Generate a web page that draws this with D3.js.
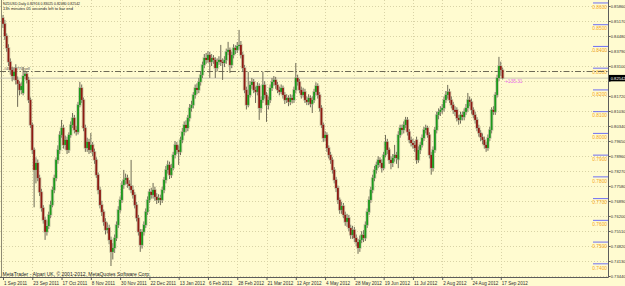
<!DOCTYPE html>
<html>
<head>
<meta charset="utf-8">
<script src="https://cdn.jsdelivr.net/npm/d3@7"></script>
<style>
html, body { margin: 0; padding: 0; background: #fffbd0; }
svg { display: block; }
text { font-family: "Liberation Sans", Arial, sans-serif; }
</style>
</head>
<body>
<div id="chart"></div>
<script>
// NZDUSD daily, 1 Sep 2011 .. 18 Sep 2012 (one value per bar)
const opens = [
  0.8531,0.8504,0.8448,0.8393,0.8329,0.8292,0.8264,0.8300,0.8246,0.8228,
  0.8200,0.8186,0.8264,0.8274,0.8246,0.8154,0.8039,0.7924,0.7832,0.7864,
  0.7795,0.7730,0.7657,0.7602,0.7547,0.7574,0.7625,0.7671,0.7740,0.7795,
  0.7878,0.7924,0.7993,0.8025,0.7947,0.7970,0.7924,0.7993,0.8039,0.8071,
  0.8016,0.8007,0.8131,0.8209,0.8154,0.8025,0.7933,0.7961,0.7924,0.7947,
  0.7915,0.7878,0.7809,0.7740,0.7671,0.7639,0.7593,0.7556,0.7565,0.7510,
  0.7455,0.7473,0.7519,0.7579,0.7648,0.7694,0.7763,0.7786,0.7795,0.7768,
  0.7758,0.7740,0.7717,0.7671,0.7611,0.7547,0.7487,0.7547,0.7579,0.7639,
  0.7694,0.7731,0.7717,0.7740,0.7708,0.7694,0.7703,0.7694,0.7740,0.7786,
  0.7832,0.7855,0.7809,0.7841,0.7901,0.7947,0.7924,0.7915,0.7970,0.8007,
  0.8039,0.8025,0.8071,0.8117,0.8131,0.8177,0.8209,0.8200,0.8237,0.8269,
  0.8315,0.8347,0.8338,0.8361,0.8329,0.8347,0.8338,0.8301,0.8329,0.8338,
  0.8329,0.8324,0.8338,0.8375,0.8384,0.8315,0.8361,0.8393,0.8384,0.8402,
  0.8407,0.8361,0.8301,0.8200,0.8131,0.8177,0.8223,0.8237,0.8200,0.8191,
  0.8218,0.8117,0.8154,0.8223,0.8177,0.8131,0.8154,0.8209,0.8237,0.8246,
  0.8223,0.8200,0.8191,0.8209,0.8177,0.8154,0.8163,0.8145,0.8163,0.8154,
  0.8200,0.8255,0.8237,0.8200,0.8177,0.8191,0.8154,0.8145,0.8163,0.8136,
  0.8154,0.8191,0.8218,0.8177,0.8117,0.8039,0.7979,0.7993,0.7933,0.7901,
  0.7878,0.7832,0.7786,0.7749,0.7694,0.7648,0.7666,0.7625,0.7593,0.7611,
  0.7565,0.7533,0.7556,0.7519,0.7500,0.7473,0.7510,0.7533,0.7519,0.7579,
  0.7639,0.7694,0.7740,0.7795,0.7832,0.7855,0.7878,0.7864,0.7841,0.7901,
  0.7961,0.7924,0.7878,0.7864,0.7887,0.7901,0.7880,0.7993,0.8025,0.8016,
  0.8039,0.8062,0.8007,0.7970,0.7956,0.7947,0.7970,0.7878,0.7924,0.7947,
  0.7979,0.8016,0.8025,0.7993,0.7901,0.7841,0.7924,0.8016,0.8085,0.8099,
  0.8108,0.8117,0.8154,0.8177,0.8191,0.8154,0.8131,0.8108,0.8108,0.8071,
  0.8062,0.8085,0.8076,0.8099,0.8117,0.8154,0.8145,0.8108,0.8085,0.8062,
  0.8025,0.8002,0.7983,0.7970,0.7947,0.7933,0.7979,0.8016,0.8108,0.8099,
  0.8177,0.8255,0.8310,0.82916
];
const highs = [
  0.8545,0.8522,0.8460,0.8410,0.8345,0.8305,0.8300,0.8318,0.8262,0.8240,
  0.8235,0.8306,0.8290,0.8285,0.8260,0.8165,0.8050,0.7935,0.7890,0.7880,
  0.7810,0.7745,0.7670,0.7615,0.7600,0.7640,0.7690,0.7755,0.7810,0.7890,
  0.7945,0.8010,0.8062,0.8040,0.7990,0.7985,0.8005,0.8055,0.8094,0.8085,
  0.8035,0.8145,0.8237,0.8225,0.8165,0.8040,0.7980,0.7975,0.8002,0.7960,
  0.7930,0.7890,0.7820,0.7755,0.7690,0.7650,0.7610,0.7590,0.7580,0.7525,
  0.7495,0.7535,0.7595,0.7665,0.7710,0.7780,0.7832,0.7815,0.7810,0.7785,
  0.7878,0.7760,0.7730,0.7685,0.7625,0.7560,0.7560,0.7595,0.7655,0.7710,
  0.7745,0.7750,0.7772,0.7755,0.7725,0.7720,0.7718,0.7755,0.7800,0.7850,
  0.7875,0.7870,0.7860,0.7915,0.7965,0.7960,0.7945,0.7985,0.8025,0.8055,
  0.8060,0.8085,0.8135,0.8150,0.8190,0.8225,0.8230,0.8255,0.8285,0.8330,
  0.8365,0.8370,0.8378,0.8375,0.8365,0.8360,0.8350,0.8345,0.8355,0.8407,
  0.8345,0.8355,0.8390,0.8421,0.8395,0.8375,0.8410,0.8405,0.8420,0.8476,
  0.8425,0.8375,0.8315,0.8215,0.8283,0.8240,0.8255,0.8250,0.8215,0.8235,
  0.8230,0.8170,0.8283,0.8240,0.8190,0.8170,0.8225,0.8255,0.8264,0.8260,
  0.8237,0.8215,0.8225,0.8220,0.8190,0.8180,0.8175,0.8180,0.8178,0.8215,
  0.8324,0.8270,0.8250,0.8215,0.8210,0.8205,0.8170,0.8180,0.8175,0.8170,
  0.8205,0.8235,0.8230,0.8190,0.8130,0.8050,0.8010,0.8005,0.7945,0.7915,
  0.7890,0.7845,0.7800,0.7760,0.7705,0.7685,0.7680,0.7640,0.7630,0.7625,
  0.7580,0.7575,0.7570,0.7535,0.7515,0.7530,0.7550,0.7555,0.7595,0.7655,
  0.7710,0.7755,0.7810,0.7850,0.7870,0.7895,0.7890,0.7880,0.7915,0.7993,
  0.7975,0.7935,0.7895,0.7905,0.7947,0.7915,0.8010,0.8040,0.8040,0.8055,
  0.8076,0.8075,0.8020,0.7985,0.7975,0.7965,0.7985,0.7940,0.7960,0.7995,
  0.8030,0.8040,0.8035,0.8005,0.7915,0.7940,0.8030,0.8100,0.8115,0.8125,
  0.8135,0.8170,0.8195,0.8223,0.8205,0.8170,0.8145,0.8125,0.8120,0.8085,
  0.8100,0.8100,0.8115,0.8135,0.8186,0.8170,0.8160,0.8120,0.8100,0.8075,
  0.8040,0.8015,0.8000,0.7985,0.7960,0.7995,0.8030,0.8120,0.8125,0.8190,
  0.8270,0.8352,0.8330,0.83025
];
const lows = [
  0.8485,0.8430,0.8375,0.8310,0.8270,0.8240,0.8245,0.8225,0.8122,0.8175,
  0.8180,0.8175,0.8250,0.8230,0.8140,0.8025,0.7905,0.7660,0.7770,0.7780,
  0.7712,0.7640,0.7585,0.7510,0.7530,0.7560,0.7610,0.7660,0.7725,0.7780,
  0.7860,0.7905,0.7980,0.7930,0.7925,0.7905,0.7910,0.7980,0.8025,0.8000,
  0.7990,0.7995,0.8120,0.8140,0.8010,0.7915,0.7915,0.7905,0.7910,0.7895,
  0.7860,0.7795,0.7720,0.7655,0.7620,0.7575,0.7535,0.7540,0.7490,0.7390,
  0.7420,0.7450,0.7505,0.7565,0.7635,0.7680,0.7745,0.7765,0.7750,0.7740,
  0.7725,0.7700,0.7655,0.7595,0.7530,0.7455,0.7470,0.7530,0.7565,0.7625,
  0.7680,0.7700,0.7700,0.7690,0.7675,0.7680,0.7670,0.7680,0.7725,0.7770,
  0.7815,0.7790,0.7795,0.7830,0.7885,0.7905,0.7855,0.7900,0.7955,0.7990,
  0.8005,0.8010,0.8055,0.8100,0.8115,0.8160,0.8180,0.8185,0.8220,0.8255,
  0.8300,0.8320,0.8325,0.8255,0.8310,0.8320,0.8255,0.8285,0.8315,0.8310,
  0.8246,0.8305,0.8320,0.8360,0.8278,0.8300,0.8345,0.8365,0.8370,0.8385,
  0.8345,0.8285,0.8185,0.8110,0.8120,0.8165,0.8205,0.8185,0.8140,0.8175,
  0.8062,0.8095,0.8140,0.8160,0.8053,0.8110,0.8140,0.8195,0.8220,0.8205,
  0.8185,0.8175,0.8180,0.8160,0.8135,0.8140,0.8125,0.8130,0.8138,0.8140,
  0.8185,0.8220,0.8185,0.8160,0.8165,0.8140,0.8130,0.8130,0.8120,0.8094,
  0.8140,0.8175,0.8160,0.8100,0.8025,0.7960,0.7965,0.7915,0.7885,0.7860,
  0.7815,0.7770,0.7730,0.7675,0.7630,0.7630,0.7610,0.7575,0.7570,0.7550,
  0.7515,0.7515,0.7500,0.7480,0.7446,0.7455,0.7495,0.7500,0.7505,0.7565,
  0.7625,0.7680,0.7725,0.7780,0.7815,0.7840,0.7845,0.7820,0.7830,0.7890,
  0.7905,0.7860,0.7835,0.7845,0.7870,0.7860,0.7840,0.7980,0.7995,0.8000,
  0.8025,0.7990,0.7955,0.7940,0.7930,0.7915,0.7860,0.7865,0.7905,0.7935,
  0.7965,0.8000,0.7980,0.7885,0.7810,0.7825,0.7910,0.8000,0.8065,0.8080,
  0.8090,0.8100,0.8140,0.8160,0.8140,0.8115,0.8090,0.8080,0.8055,0.8040,
  0.8045,0.8060,0.8060,0.8085,0.8100,0.8125,0.8090,0.8070,0.8045,0.8010,
  0.7985,0.7965,0.7950,0.7930,0.7915,0.7920,0.7965,0.8000,0.8085,0.8085,
  0.8165,0.8240,0.8265,0.82480
];
const closes = [
  0.8504,0.8448,0.8393,0.8329,0.8292,0.8264,0.8283,0.8246,0.8228,0.8200,
  0.8218,0.8264,0.8274,0.8246,0.8154,0.8039,0.7924,0.7832,0.7864,0.7795,
  0.7730,0.7657,0.7602,0.7547,0.7574,0.7625,0.7671,0.7740,0.7795,0.7878,
  0.7924,0.7993,0.8025,0.7947,0.7970,0.7924,0.7993,0.8039,0.8071,0.8016,
  0.8007,0.8131,0.8209,0.8154,0.8025,0.7933,0.7961,0.7924,0.7947,0.7915,
  0.7878,0.7809,0.7740,0.7671,0.7639,0.7593,0.7556,0.7565,0.7510,0.7455,
  0.7473,0.7519,0.7579,0.7648,0.7694,0.7763,0.7786,0.7795,0.7768,0.7758,
  0.7740,0.7717,0.7671,0.7611,0.7547,0.7487,0.7547,0.7579,0.7639,0.7694,
  0.7731,0.7717,0.7740,0.7708,0.7694,0.7703,0.7694,0.7740,0.7786,0.7832,
  0.7855,0.7809,0.7841,0.7901,0.7947,0.7924,0.7915,0.7970,0.8007,0.8039,
  0.8025,0.8071,0.8117,0.8131,0.8177,0.8209,0.8200,0.8237,0.8269,0.8315,
  0.8347,0.8338,0.8361,0.8329,0.8347,0.8338,0.8301,0.8329,0.8338,0.8329,
  0.8324,0.8338,0.8375,0.8384,0.8315,0.8361,0.8393,0.8384,0.8402,0.8407,
  0.8361,0.8301,0.8200,0.8131,0.8177,0.8223,0.8237,0.8200,0.8191,0.8218,
  0.8117,0.8154,0.8223,0.8177,0.8131,0.8154,0.8209,0.8237,0.8246,0.8223,
  0.8200,0.8191,0.8209,0.8177,0.8154,0.8163,0.8145,0.8163,0.8154,0.8200,
  0.8255,0.8237,0.8200,0.8177,0.8191,0.8154,0.8145,0.8163,0.8136,0.8154,
  0.8191,0.8218,0.8177,0.8117,0.8039,0.7979,0.7993,0.7933,0.7901,0.7878,
  0.7832,0.7786,0.7749,0.7694,0.7648,0.7666,0.7625,0.7593,0.7611,0.7565,
  0.7533,0.7556,0.7519,0.7500,0.7473,0.7510,0.7533,0.7519,0.7579,0.7639,
  0.7694,0.7740,0.7795,0.7832,0.7855,0.7878,0.7864,0.7841,0.7901,0.7961,
  0.7924,0.7878,0.7864,0.7887,0.7901,0.7887,0.7993,0.8025,0.8016,0.8039,
  0.8062,0.8007,0.7970,0.7956,0.7947,0.7933,0.7878,0.7924,0.7947,0.7979,
  0.8016,0.8025,0.7993,0.7901,0.7841,0.7924,0.8016,0.8085,0.8099,0.8108,
  0.8117,0.8154,0.8177,0.8191,0.8154,0.8131,0.8108,0.8099,0.8071,0.8062,
  0.8085,0.8076,0.8099,0.8117,0.8154,0.8145,0.8108,0.8085,0.8062,0.8025,
  0.8002,0.7983,0.7970,0.7947,0.7933,0.7979,0.8016,0.8108,0.8099,0.8177,
  0.8255,0.8310,0.8292,0.82542
];

// time axis labels (one every 16 bars)
const dateLabels = ["1 Sep 2011","23 Sep 2011","17 Oct 2011","8 Nov 2011","30 Nov 2011",
  "22 Dec 2011","13 Jan 2012","6 Feb 2012","28 Feb 2012","21 Mar 2012","12 Apr 2012",
  "4 May 2012","28 May 2012","19 Jun 2012","11 Jul 2012","2 Aug 2012","24 Aug 2012","17 Sep 2012"];
const dateBars = [0,16,32,48,64,80,96,112,128,144,160,176,192,208,224,240,256,272];

// price axis labels
const priceTicks = [0.7344,0.7413,0.7482,0.7551,0.7620,0.7689,0.7758,0.7827,0.7896,0.7965,
  0.8034,0.8103,0.8172,0.8241,0.8310,0.8379,0.8448,0.8517,0.8586];

// round number levels (blue line + orange label)
const levels = [0.86,0.85,0.84,0.83,0.82,0.81,0.80,0.79,0.78,0.77,0.76,0.75,0.74];

const bid = 0.82542;
const orderPrice = 0.82847;

const W = 625, H = 286;
const axisX = 608.5, axisY = 277.5;

const svg = d3.select("#chart").append("svg")
  .attr("width", W).attr("height", H);

svg.append("rect").attr("width", W).attr("height", H).attr("fill", "#fffbd0");

const x = d3.scaleLinear().domain([0, 273]).range([3, 502.6]);
const y = d3.scaleLinear().domain([0.7344, 0.8586]).range([276, 6]);

// dotted grid
const grid = svg.append("g");
grid.selectAll("line.h").data(priceTicks).join("line")
  .attr("x1", 0).attr("x2", axisX)
  .attr("y1", d => Math.round(y(d)) + 0.5).attr("y2", d => Math.round(y(d)) + 0.5)
  .attr("stroke", "#d9d3a6").attr("stroke-dasharray", "1,2");
grid.selectAll("line.v").data(dateBars).join("line")
  .attr("x1", d => Math.round(x(d)) + 0.5).attr("x2", d => Math.round(x(d)) + 0.5)
  .attr("y1", 0).attr("y2", axisY)
  .attr("stroke", "#d9d3a6").attr("stroke-dasharray", "1,2");

// left border
svg.append("line").attr("x1", 1.5).attr("x2", 1.5).attr("y1", 0).attr("y2", axisY)
  .attr("stroke", "#8e8a74");

// round levels
const lv = svg.append("g");
lv.selectAll("line").data(levels).join("line")
  .attr("x1", 593).attr("x2", axisX)
  .attr("y1", d => y(d)).attr("y2", d => y(d))
  .attr("stroke", "#6f6ff2").attr("stroke-width", 1);
lv.selectAll("text").data(levels).join("text")
  .attr("x", 607).attr("y", d => y(d) + 5.8)
  .attr("text-anchor", "end").attr("font-size", 4.8)
  .attr("fill", "#f5a623")
  .text(d => d3.format(".4f")(d));

// bid and order lines
svg.append("line").attr("x1", 0).attr("x2", axisX)
  .attr("y1", y(bid)).attr("y2", y(bid))
  .attr("stroke", "#c6c3b0");
svg.append("line").attr("x1", 0).attr("x2", axisX)
  .attr("y1", y(orderPrice)).attr("y2", y(orderPrice))
  .attr("stroke", "#6e6a56").attr("stroke-dasharray", "6,2,1.5,2");
svg.append("text").attr("x", 4).attr("y", y(orderPrice) - 1.2)
  .attr("font-size", 3.8).attr("fill", "#4a4a4a").text("#48877770 sell");

// candles
const idx = d3.range(closes.length);
const cg = svg.append("g");
cg.selectAll("line").data(idx).join("line")
  .attr("x1", i => x(i)).attr("x2", i => x(i))
  .attr("y1", i => y(highs[i])).attr("y2", i => y(lows[i]))
  .attr("stroke", "#6e6a56").attr("stroke-width", 1);
cg.selectAll("rect.halo").data(idx).join("rect").attr("class", "halo")
  .attr("x", i => x(i) - 1.8).attr("width", 3.6)
  .attr("y", i => y(Math.max(opens[i], closes[i])) - 0.8)
  .attr("height", i => Math.abs(y(opens[i]) - y(closes[i])) + 1.6)
  .attr("fill", "#a9a58c").attr("opacity", 0.55);
cg.selectAll("rect.body").data(idx).join("rect").attr("class", "body")
  .attr("x", i => x(i) - 0.9).attr("width", 1.8)
  .attr("y", i => y(Math.max(opens[i], closes[i])))
  .attr("height", i => Math.max(0.8, Math.abs(y(opens[i]) - y(closes[i]))))
  .attr("fill", i => closes[i] >= opens[i] ? "#1b9a1b" : "#8e1a12");

// profit label
svg.append("text").attr("x", 505).attr("y", y(bid) + 4.8)
  .attr("font-size", 4.8).attr("fill", "#ec6aec").text("+135.31");

// axes
svg.append("line").attr("x1", axisX).attr("x2", axisX).attr("y1", 0).attr("y2", axisY)
  .attr("stroke", "#5c5c5c");
svg.append("line").attr("x1", 0).attr("x2", axisX).attr("y1", axisY).attr("y2", axisY)
  .attr("stroke", "#5c5c5c");

const fmt5 = d3.format(".5f");
const yAxis = svg.append("g").attr("transform", `translate(${axisX},0)`)
  .call(d3.axisRight(y).tickValues(priceTicks).tickSize(2)
    .tickFormat(d => Math.abs(y(d) - y(bid)) < 5 ? "" : fmt5(d)));
yAxis.select(".domain").remove();
yAxis.selectAll("line").attr("stroke", "#5c5c5c");
yAxis.selectAll("text").attr("x", 2.2).attr("dy", "0.32em")
  .attr("font-size", 4.1).attr("fill", "#303030").attr("font-family", null);

const xAxis = svg.append("g").attr("transform", `translate(0,${axisY})`)
  .call(d3.axisBottom(x).tickValues(dateBars).tickSize(2.5).tickFormat((d, i) => dateLabels[i]));
xAxis.select(".domain").remove();
xAxis.selectAll("line").attr("stroke", "#5c5c5c");
xAxis.selectAll("text").attr("text-anchor", "start").attr("x", 0.5).attr("y", 7).attr("dy", null)
  .attr("font-size", 4.6).attr("fill", "#303030").attr("font-family", null);

// bid box on the price axis
svg.append("rect").attr("x", axisX + 0.5).attr("y", y(bid) - 3.2)
  .attr("width", 16).attr("height", 6.4).attr("fill", "#000");
svg.append("text").attr("x", axisX + 2.2).attr("y", y(bid) + 1.5)
  .attr("font-size", 4.1).attr("fill", "#fff").text("0.82542");

// header and footer
svg.append("text").attr("x", 3).attr("y", 5)
  .attr("font-size", 3.8).attr("fill", "#222")
  .attr("textLength", 77).attr("lengthAdjust", "spacingAndGlyphs")
  .text("NZDUSD,Daily  0.82916 0.83025 0.82480 0.82542");
svg.append("text").attr("x", 3).attr("y", 10)
  .attr("font-size", 3.8).attr("fill", "#222")
  .attr("textLength", 70).attr("lengthAdjust", "spacingAndGlyphs")
  .text("13h minutes 05 seconds left to bar end");
svg.append("text").attr("x", 2.5).attr("y", 275.8)
  .attr("font-size", 4.8).attr("fill", "#222")
  .attr("textLength", 148).attr("lengthAdjust", "spacingAndGlyphs")
  .text("MetaTrader - Alpari UK, \u00a9 2001-2012, MetaQuotes Software Corp.");
</script>
</body>
</html>
